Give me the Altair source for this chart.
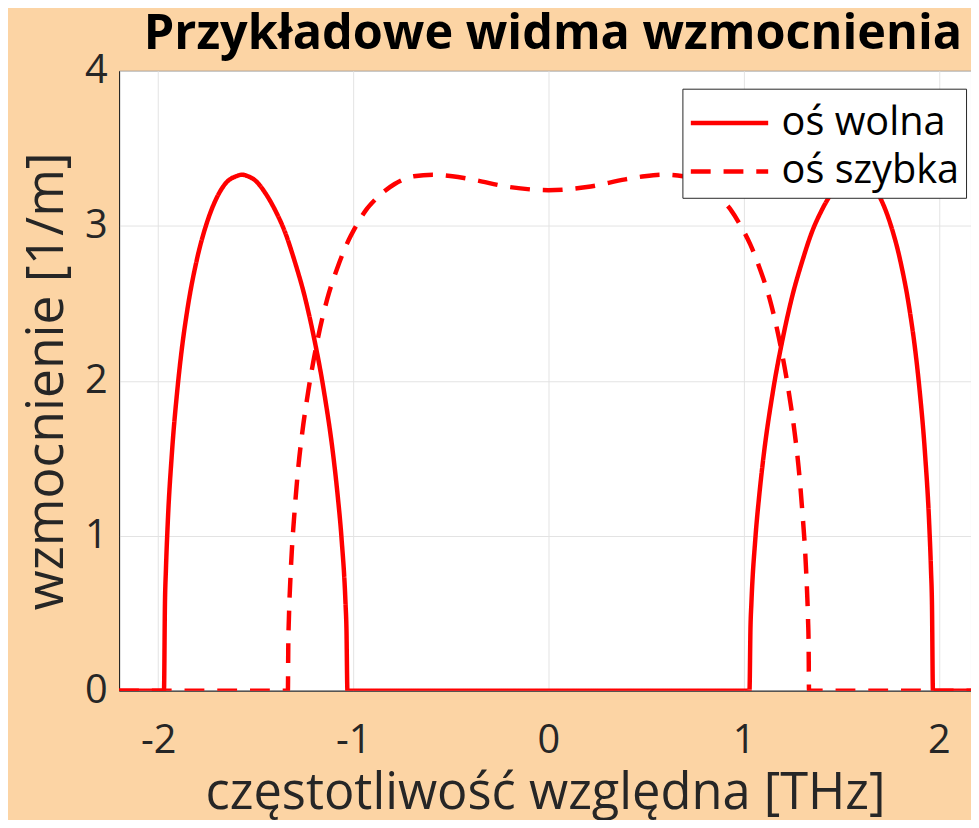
import altair as alt
import pandas as pd

x_ticks = [-2, -1, 0, 1, 2]
y_ticks = [0, 1, 2, 3, 4]
series_names = ["oś wolna", "oś szybka"]

wolna_x = [-2.2, -1.97, -1.965, -1.96, -1.95, -1.93, -1.9, -1.88, -1.85, -1.8, -1.75, -1.7,
           -1.65, -1.6, -1.57, -1.54, -1.5, -1.45, -1.4, -1.35, -1.3, -1.25, -1.2, -1.15,
           -1.1, -1.08, -1.06, -1.04, -1.035, -1.03,
           1.03, 1.035, 1.04, 1.06, 1.08, 1.1, 1.15, 1.2, 1.25, 1.3, 1.35, 1.4, 1.45,
           1.5, 1.54, 1.57, 1.6, 1.65, 1.7, 1.75, 1.8, 1.85, 1.88, 1.9, 1.93, 1.95,
           1.96, 1.965, 1.97, 2.2]
wolna_y = [0, 0, 0.56, 0.78, 1.10, 1.52, 1.96, 2.19, 2.46, 2.79, 3.02, 3.18,
           3.28, 3.32, 3.33, 3.32, 3.29, 3.21, 3.10, 2.96, 2.77, 2.55, 2.27, 1.93,
           1.49, 1.26, 0.98, 0.57, 0.40, 0,
           0, 0.40, 0.57, 0.98, 1.26, 1.49, 1.93, 2.27, 2.55, 2.77, 2.96, 3.10, 3.21,
           3.29, 3.32, 3.33, 3.32, 3.28, 3.18, 3.02, 2.79, 2.46, 2.19, 1.96, 1.52, 1.10,
           0.78, 0.56, 0, 0]

szybka_x = [-2.2, -1.335, -1.333, -1.330, -1.320, -1.300, -1.281, -1.261, -1.231, -1.182,
            -1.133, -1.084, -1.034, -0.985, -0.936, -0.887, -0.788, -0.690, -0.591,
            -0.4925, -0.394, -0.197, 0, 0.197, 0.394, 0.4925, 0.591, 0.690, 0.788,
            0.887, 0.936, 0.985, 1.034, 1.084, 1.133, 1.182, 1.231, 1.261, 1.281,
            1.300, 1.320, 1.330, 1.333, 1.335, 2.2]
szybka_y = [0, 0, 0.30, 0.46, 0.78, 1.17, 1.45, 1.67, 1.93, 2.27,
            2.53, 2.72, 2.88, 3.00, 3.10, 3.17, 3.27, 3.32, 3.33,
            3.32, 3.30, 3.25, 3.23, 3.25, 3.30, 3.32, 3.33, 3.32, 3.27,
            3.17, 3.10, 3.00, 2.88, 2.72, 2.53, 2.27, 1.93, 1.67, 1.45,
            1.17, 0.78, 0.46, 0.30, 0, 0]

df = pd.concat([
    pd.DataFrame({"x": wolna_x, "y": wolna_y, "series": series_names[0]}),
    pd.DataFrame({"x": szybka_x, "y": szybka_y, "series": series_names[1]}),
], ignore_index=True)

FONT = "Open Sans"
TXT = "#262626"

legend = alt.Legend(
    title=None, orient="none", legendX=568, legendY=18,
    fillColor="white", strokeColor=TXT, padding=6,
    symbolType="M-1.5,0H1.5", symbolSize=2704, symbolStrokeWidth=4.5,
    symbolOffset=13,
    labelFontSize=40, labelFont=FONT, labelColor="black", labelOffset=24,
    labelLimit=400, rowPadding=0,
)

chart = alt.Chart(df).mark_line(strokeWidth=4.5, clip=True, interpolate="monotone").encode(
    x=alt.X("x:Q",
            scale=alt.Scale(domain=[-2.2, 2.165], nice=False, zero=False),
            axis=alt.Axis(values=x_ticks, title="częstotliwość względna [THz]",
                          labelExpr="datum.value + ''",
                          labelPadding=30, titlePadding=9, titleFontSize=51)),
    y=alt.Y("y:Q",
            scale=alt.Scale(domain=[0, 4], nice=False),
            axis=alt.Axis(values=y_ticks, title="wzmocnienie [1/m]",
                          labelExpr="datum.value + ''",
                          labelPadding=12, titlePadding=11)),
    color=alt.Color("series:N", scale=alt.Scale(domain=series_names, range=["#ff0000", "#ff0000"]),
                    legend=legend),
    strokeDash=alt.StrokeDash("series:N", scale=alt.Scale(domain=series_names, range=[[1, 0], [20, 13]]),
                              legend=legend),
).properties(
    width=859, height=625,
    title=alt.TitleParams("Przykładowe widma wzmocnienia", fontSize=49, font=FONT,
                          fontWeight="bold", color="black", anchor="middle", offset=-8, dx=8),
    padding={"left": 112, "top": 60, "right": 0, "bottom": 127},
    autosize=alt.AutoSizeParams(type="none"),
).configure(
    background="#FCD4A4",
).configure_view(
    fill="white", stroke=TXT, strokeWidth=1,
).configure_axis(
    labelFont=FONT, labelFontSize=40, labelColor=TXT,
    titleFont=FONT, titleFontSize=52, titleFontWeight="normal", titleColor=TXT,
    grid=True, gridColor="#e3e3e3", gridWidth=1,
    domainColor=TXT, ticks=False,
)

chart.save("out.html", embed_options={"renderer": "svg", "actions": False})
